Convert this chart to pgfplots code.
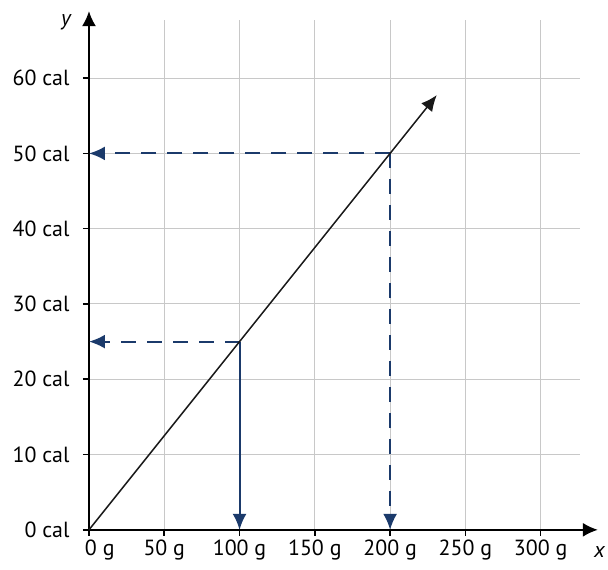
\documentclass[border=0pt]{standalone}
\usepackage{pgfplots}
\pgfplotsset{compat=1.18}
\usepackage{fontspec}
\setmainfont{PT Sans}
\usetikzlibrary{arrows.meta}
\definecolor{navy}{HTML}{1B3A6B}
\definecolor{gridgray}{HTML}{C8C8C8}
\begin{document}
\begin{tikzpicture}
\begin{axis}[
  x=1.506bp, y=7.53bp,
  xmin=0, xmax=326, ymin=0, ymax=67.7,
  axis lines=left,
  axis line style={line width=1.6bp, -{Latex[length=15bp,width=14bp]}},
  x axis line style={shorten >=-18bp},
  y axis line style={shorten >=-9bp},
  grid=major,
  grid style={gridgray, line width=1bp},
  tick align=outside,
  major tick length=6bp,
  tick style={black, line width=1.6bp},
  xtick={0,50,100,150,200,250,300},
  xticklabels={\makebox[0pt][l]{\hspace{-4bp}0 g},50 g,100 g,150 g,200 g,250 g,300 g},
  ytick={0,10,20,30,40,50,60},
  yticklabels={0 cal,10 cal,20 cal,30 cal,40 cal,50 cal,60 cal},
  ticklabel style={font=\fontsize{22}{24}\selectfont},
  xticklabel style={anchor=north, yshift=-1bp},
  yticklabel style={anchor=east, xshift=-10bp},
  clip=false,
]
\path (axis cs:-59.1,-5.31) rectangle (axis cs:344.6,70.38);
\addplot[navy, line width=2bp, dash pattern=on 15bp off 11bp, -{Latex[length=16bp,width=14bp]}] coordinates {(200,50) (0,50)};
\addplot[navy, line width=2bp, dash pattern=on 15bp off 11bp, -{Latex[length=16bp,width=14bp]}] coordinates {(200,50) (200,0)};
\addplot[navy, line width=2bp, dash pattern=on 15bp off 11bp, -{Latex[length=16bp,width=14bp]}] coordinates {(100,25) (0,25)};
\addplot[navy, line width=2bp, -{Latex[length=16bp,width=14bp]}] coordinates {(100,25) (100,0)};
\addplot[black!90, line width=1.5bp, -{Latex[length=16bp,width=14bp]}] coordinates {(0,0) (231,57.75)};
\node[font=\fontsize{22}{24}\selectfont\itshape] at (axis cs:-15.3,67.4) {y};
\node[font=\fontsize{22}{24}\selectfont\itshape] at (axis cs:339,-3.0) {x};
\end{axis}
\end{tikzpicture}
\end{document}
